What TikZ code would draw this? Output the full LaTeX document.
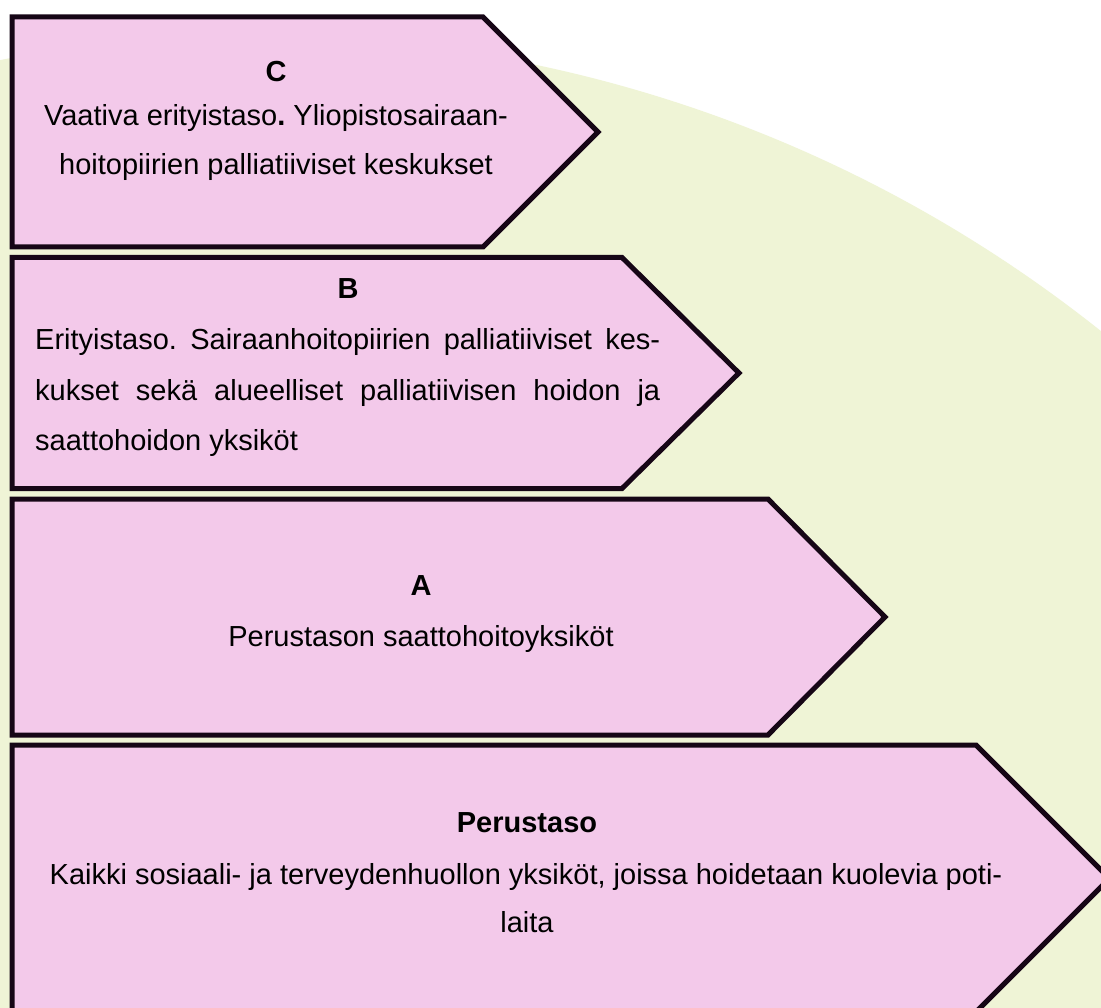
\documentclass[tikz,border=0pt]{standalone}
\usepackage{fontspec}
\setmainfont{Liberation Sans}
\frenchspacing
\definecolor{pinkfill}{RGB}{243,201,234}
\definecolor{greenbg}{RGB}{239,244,214}
\definecolor{edge}{RGB}{22,6,22}
\begin{document}
\begin{tikzpicture}[x=1pt,y=-1pt,
  lvl/.style={draw=edge, line width=5pt, fill=pinkfill, line join=miter},
  lbl/.style={anchor=base, inner sep=0pt, font=\fontsize{29}{34}\selectfont\bfseries},
  txt/.style={anchor=base, inner sep=0pt, font=\fontsize{29}{34}\selectfont},
  txtl/.style={anchor=base west, inner sep=0pt, font=\fontsize{29}{34}\selectfont}]
\useasboundingbox (0,0) rectangle (1101,1008);
\begin{scope}
\clip (0,0) rectangle (1101,1008);
\fill[white] (0,0) rectangle (1101,1008);
\fill[greenbg] (256,1393) circle (1357pt);
% C
\draw[lvl] (12,17) -- (483,17) -- (598,132) -- (483,247) -- (12,247) -- cycle;
% B
\draw[lvl] (12,257.5) -- (622,257.5) -- (739,373) -- (622,488.5) -- (12,488.5) -- cycle;
% A
\draw[lvl] (12,499) -- (768,499) -- (885,617) -- (768,735) -- (12,735) -- cycle;
% Perustaso
\draw[lvl] (12,745) -- (976,745) -- (1109.5,878.5) -- (976,1012) -- (12,1012) -- cycle;
\end{scope}
% texts
\node[lbl] (cT) at (276,82) {C};
\node[txt] (c1) at (276,126) {Vaativa erityistaso\textbf{.} Yliopistosairaan-};
\node[txt] (c2) at (276,175) {hoitopiirien palliatiiviset keskukset};
\node[lbl] (bT) at (348,299) {B};
\node[txtl] (b1) at (35,350) {\makebox[625pt][s]{Erityistaso. Sairaanhoitopiirien palliatiiviset kes-}};
\node[txtl] (b2) at (35,400) {\makebox[625pt][s]{kukset sekä alueelliset palliatiivisen hoidon ja}};
\node[txtl] (b3) at (35,450) {saattohoidon yksiköt};
\node[lbl] (aT) at (421,595) {A};
\node[txt] (a1) at (421,646) {Perustason saattohoitoyksiköt};
\node[lbl] (pT) at (527,832) {Perustaso};
\node[txt] (p1) at (526,884) {Kaikki sosiaali- ja terveydenhuollon yksiköt, joissa hoidetaan kuolevia poti-};
\node[txt] (p2) at (527,932) {laita};
\end{tikzpicture}
\end{document}
